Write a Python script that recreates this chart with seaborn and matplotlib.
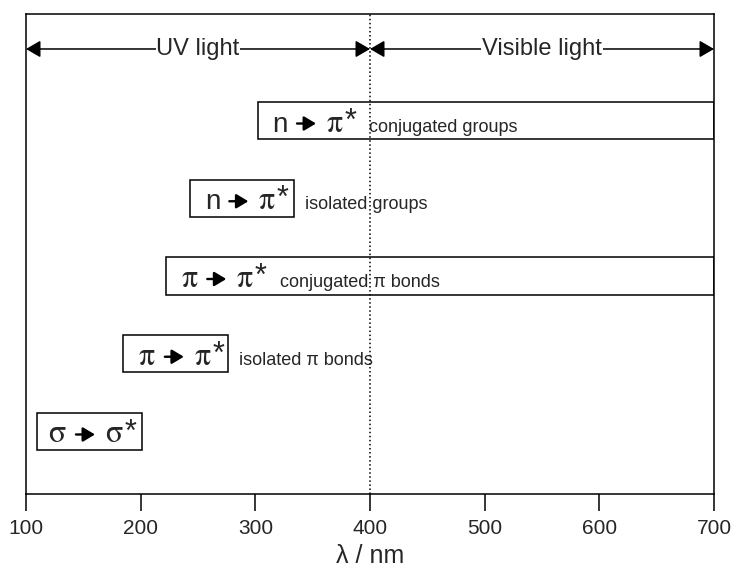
import matplotlib
matplotlib.use("Agg")
import matplotlib.pyplot as plt
from matplotlib.transforms import offset_copy
import seaborn as sns
import numpy as np

# ---- data ----
rows = [1, 2, 3, 4, 5]                       # bottom -> top
from_orbitals = ["σ", "π", "π", "n", "n"]
to_orbitals = ["σ", "π", "π", "π", "π"]
descriptions = ["", "isolated π bonds", "conjugated π bonds", "isolated groups", "conjugated groups"]
starts = [110, 185, 222, 243, 302]           # nm
ends = [201, 276, 700, 334, 700]             # nm
regions = ["UV light", "Visible light"]
region_edges = [100, 400, 700]
xticks = [100, 200, 300, 400, 500, 600, 700]

sns.set_theme(style="ticks")
plt.rcParams["font.family"] = ["Liberation Sans", "DejaVu Sans"]
plt.rcParams["mathtext.fontset"] = "stix"

fig = plt.figure(figsize=(7.33, 5.68), dpi=100)
ax = fig.add_axes([26 / 733, 74 / 568, 688 / 733, 480 / 568])

ax.set_xlim(100, 700)
ax.set_ylim(0.196, 6.37)

# boxes
widths = np.array(ends) - np.array(starts)
ax.barh(rows, widths, left=starts, height=0.476, facecolor="none",
        edgecolor="black", linewidth=1.1, zorder=2)

# dotted divider
ax.axvline(region_edges[1], color="black", linestyle=":", linewidth=1.1, zorder=3)

# region arrows
arrow_y = 5.92
for (a, b), name in zip(zip(region_edges[:-1], region_edges[1:]), regions):
    ax.annotate("", xy=(b, arrow_y), xytext=(a, arrow_y),
                arrowprops=dict(arrowstyle="<|-|>,head_length=0.55,head_width=0.32",
                                color="black", lw=1.1,
                                mutation_scale=16, shrinkA=0, shrinkB=0),
                annotation_clip=False, zorder=4)
    ax.text((a + b) / 2, arrow_y, name, ha="center", va="center", fontsize=17,
            bbox=dict(facecolor="white", edgecolor="none", pad=0.5), zorder=5)

GREEK = {"π": r"\pi", "σ": r"\sigma"}
SIZE = {"n": 20, "π": 23, "σ": 23}


def orb_str(o):
    return r"$\mathrm{" + GREEK[o] + r"}$" if o in GREEK else o


def off(dx, dy):
    return offset_copy(ax.transData, fig=fig, x=dx, y=dy, units="dots")


fig.canvas.draw()
renderer = fig.canvas.get_renderer()

BASE, GAP1, ALEN, GAP2 = -11, 9, 19, 10
for r, fo, to, d, s, e in zip(rows, from_orbitals, to_orbitals, descriptions, starts, ends):
    pad = 11 if fo == "σ" else 15
    x_start_px = ax.transData.transform((s, r))[0]
    t1 = ax.text(s, r, orb_str(fo), transform=off(pad, BASE), ha="left",
                 va="baseline", fontsize=SIZE[fo], zorder=5)
    fig.canvas.draw()
    bb1 = t1.get_window_extent(renderer)
    a0 = bb1.x1 - x_start_px + GAP1
    a1 = a0 + ALEN
    ax.annotate("", xy=(s, r), xycoords=off(a1, -3),
                xytext=(s, r), textcoords=off(a0, -3),
                arrowprops=dict(arrowstyle="-|>,head_length=0.6,head_width=0.36",
                                color="black", lw=1.7, mutation_scale=12,
                                shrinkA=0, shrinkB=0),
                annotation_clip=False, zorder=5)
    t3 = ax.text(s, r, orb_str(to), transform=off(a1 + GAP2, BASE), ha="left",
                 va="baseline", fontsize=SIZE[to], zorder=5)
    fig.canvas.draw()
    bb3 = t3.get_window_extent(renderer)
    st = ax.text(s, r, "*", transform=off(bb3.x1 - x_start_px + 1, BASE + 2),
                 ha="left", va="baseline", fontsize=22, zorder=5)
    if d:
        fig.canvas.draw()
        bbs = st.get_window_extent(renderer)
        end_px = ax.transData.transform((e, r))[0]
        if end_px - bbs.x1 > 40:
            x_px = bbs.x1 + 13
        else:
            x_px = end_px + 11
        ax.text(s, r, d, transform=off(x_px - x_start_px, BASE), ha="left",
                va="baseline", fontsize=13, zorder=5)

# axes styling
ax.set_xticks(xticks)
ax.set_xticklabels([str(v) for v in xticks], fontsize=15)
ax.set_yticks([])
ax.tick_params(axis="x", direction="out", length=12, width=1.1, color="black", pad=6)
for sp in ax.spines.values():
    sp.set_visible(True)
    sp.set_color("black")
    sp.set_linewidth(1.1)
ax.set_xlabel("λ / nm", fontsize=18, labelpad=4)

fig.savefig("out.png", dpi=100)
